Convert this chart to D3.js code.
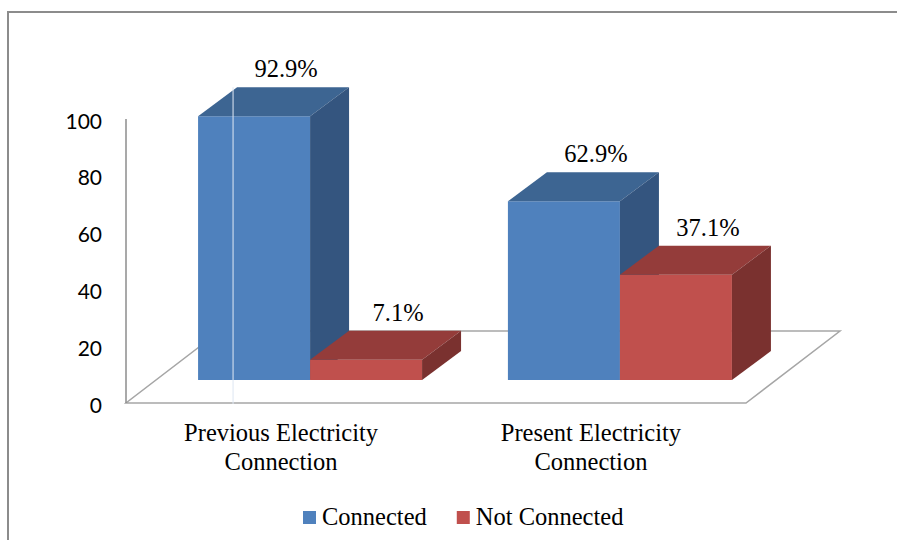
<!DOCTYPE html>
<html>
<head>
<meta charset="utf-8">
<script src="https://cdn.jsdelivr.net/npm/d3@7"></script>
<style>
  html, body { margin: 0; padding: 0; background: #fff; }
  svg { display: block; }
</style>
</head>
<body>
<svg id="chart" width="897" height="540"></svg>
<script>
// Electricity connection status, percent of households
const categories = ["Previous Electricity Connection", "Present Electricity Connection"];
const categoryLines = [["Previous Electricity", "Connection"], ["Present Electricity", "Connection"]];
const seriesNames = ["Connected", "Not Connected"];
const connected = [92.9, 62.9];
const notConnected = [7.1, 37.1];
const yTicks = [0, 20, 40, 60, 80, 100];

const palette = {
  "Connected":     { front: "#4F81BD", top: "#3D6592", side: "#34557F" },
  "Not Connected": { front: "#C0504D", top: "#943C3A", side: "#7A312F" }
};

const rows = categories.map((c, i) => ({
  category: c,
  values: [
    { series: seriesNames[0], value: connected[i] },
    { series: seriesNames[1], value: notConnected[i] }
  ]
}));

const svg = d3.select("#chart");
const serif = "'Liberation Serif', 'Times New Roman', serif";
const textSize = 24.5;

// outer frame (left and top edges)
svg.append("path")
  .attr("d", "M8,540 L8,12 L897,12")
  .attr("fill", "none").attr("stroke", "#8c8c8c").attr("stroke-width", 2);

// plot geometry
const plotLeft = 126, plotRight = 746;
const floorDepth = { dx: 94, dy: -72 };   // full depth of the floor
const barNear = { dx: 29, dy: -23 };      // bar front face offset into depth
const barFar  = { dx: 68, dy: -52 };      // bar back face offset into depth

const x0 = d3.scaleBand().domain(categories).range([plotLeft, plotRight])
  .paddingInner(0.277).paddingOuter(0.139);
const x1 = d3.scaleBand().domain(seriesNames).range([0, x0.bandwidth()]);
const y = d3.scaleLinear().domain([0, 100]).range([403, 119]);

// floor
const f0 = y(0);
svg.append("polygon")
  .attr("points", [
    [plotLeft, f0], [plotRight, f0],
    [plotRight + floorDepth.dx, f0 + floorDepth.dy],
    [plotLeft + floorDepth.dx, f0 + floorDepth.dy]
  ].map(p => p.join(",")).join(" "))
  .attr("fill", "#fff").attr("stroke", "#a6a6a6").attr("stroke-width", 1.5);

// value axis line
svg.append("line")
  .attr("x1", plotLeft).attr("x2", plotLeft)
  .attr("y1", y(0)).attr("y2", y(100))
  .attr("stroke", "#8c8c8c").attr("stroke-width", 1.5);

// value axis labels
svg.append("g").selectAll("text").data(yTicks).join("text")
  .attr("x", 102).attr("y", d => y(d) + 2)
  .attr("dy", "0.36em")
  .attr("text-anchor", "end")
  .attr("font-family", "Lato, 'Open Sans', sans-serif")
  .attr("font-size", 21)
  .attr("fill", "#000")
  .text(d => d);

// 3D bars, drawn left to right so neighbours overlap the side faces
const bars = [];
rows.forEach(r => r.values.forEach(v => bars.push({ category: r.category, ...v })));

const barG = svg.append("g");
bars.forEach(b => {
  const xl = x0(b.category) + x1(b.series);
  const xr = xl + x1.bandwidth();
  const yb = y(0), yt = y(b.value);
  const c = palette[b.series];
  const g = barG.append("g");
  const P = (x, yy, o) => [x + o.dx, yy + o.dy].join(",");
  // front
  g.append("polygon").attr("fill", c.front)
    .attr("points", [P(xl, yt, barNear), P(xr, yt, barNear), P(xr, yb, barNear), P(xl, yb, barNear)].join(" "));
  // top
  g.append("polygon").attr("fill", c.top)
    .attr("points", [P(xl, yt, barNear), P(xr, yt, barNear), P(xr, yt, barFar), P(xl, yt, barFar)].join(" "));
  // side
  g.append("polygon").attr("fill", c.side)
    .attr("points", [P(xr, yt, barNear), P(xr, yt, barFar), P(xr, yb, barFar), P(xr, yb, barNear)].join(" "));
  b.labelX = (xl + xr) / 2 + barNear.dx + 32;
  b.labelY = yt + barFar.dy - 10;
});

// faint highlight seam on the first column
{
  const b = bars[0];
  const xs = x0(b.category) + x1(b.series) + barNear.dx + 35;
  svg.append("line")
    .attr("x1", xs).attr("x2", xs)
    .attr("y1", y(b.value) + barFar.dy).attr("y2", y(0) + 1)
    .attr("stroke", "#dfe8f3").attr("stroke-width", 1.2).attr("opacity", 0.85);
}

// data labels
svg.append("g").selectAll("text").data(bars).join("text")
  .attr("x", d => d.labelX).attr("y", d => d.labelY)
  .attr("text-anchor", "middle")
  .attr("font-family", serif).attr("font-size", textSize).attr("fill", "#000")
  .text(d => d.value.toFixed(1) + "%");

// category labels
const catG = svg.append("g");
categories.forEach((c, i) => {
  const cx = x0(c) + x0.bandwidth() / 2;
  catG.append("text")
    .attr("x", cx).attr("y", 441)
    .attr("text-anchor", "middle")
    .attr("font-family", serif).attr("font-size", textSize).attr("fill", "#000")
    .selectAll("tspan").data(categoryLines[i]).join("tspan")
    .attr("x", cx).attr("dy", (d, k) => k === 0 ? 0 : 29)
    .text(d => d);
});

// legend
const legend = svg.append("g");
let lx = 303;
seriesNames.forEach(s => {
  legend.append("rect").attr("x", lx).attr("y", 511).attr("width", 13).attr("height", 13)
    .attr("fill", palette[s].front);
  const t = legend.append("text")
    .attr("x", lx + 19).attr("y", 525)
    .attr("font-family", serif).attr("font-size", textSize).attr("fill", "#000")
    .text(s);
  lx += 19 + t.node().getComputedTextLength() + 30;
});
</script>
</body>
</html>
